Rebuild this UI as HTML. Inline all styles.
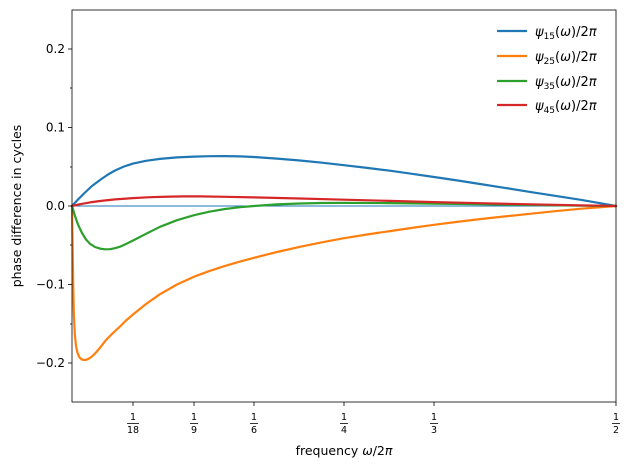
<!DOCTYPE html>
<html><head><meta charset="utf-8"><style>
body{margin:0;background:#fff}
svg text{font-family:"DejaVu Sans","Liberation Sans",sans-serif;fill:#000}
</style></head><body>
<svg width="630" height="470" viewBox="0 0 630 470" xmlns="http://www.w3.org/2000/svg">
<rect width="630" height="470" fill="#fff"/>
<line x1="72" y1="206" x2="616" y2="206" stroke="#1f77b4" stroke-width="1"/>
<g fill="none" stroke-width="2.2" stroke-linejoin="round" stroke-linecap="round">
<polyline stroke="#1f77b4" points="72,206 78,199.5 85,192.5 92,186 100,180 108,174.5 115,170.5 124,166.5 133,163.6 146,160.8 160,158.9 177,157.4 194,156.6 210,156.2 225,156.1 240,156.4 254,157 277,158.6 300,160.5 322,162.7 344,165.2 367,167.9 390,170.7 412,173.8 434,177 457,180.4 480,184 505,187.9 530,191.9 555,195.8 580,199.7 598,202.8 616,206"/>
<polyline stroke="#ff7f0e" points="72,206 72.6,245 73.2,285 73.9,315 74.8,334 76,346 77.5,353 79.5,357.5 82,359.6 85,360 88,359.2 92,356.5 96,352.5 101,346.5 106,340 113,333 120,326.5 126,320.5 133,314.5 146,304 160,294.2 177,284.5 194,276.7 210,270.8 225,265.9 240,261.6 254,257.8 277,252 300,246.8 322,242.3 344,238.2 367,234.5 390,231.1 412,227.9 434,224.8 457,221.9 480,219.1 505,216.4 530,213.8 555,211.2 580,208.8 598,207.4 616,206"/>
<polyline stroke="#2ca02c" points="72,206 75,216 78,224.5 82,233 86,239.5 90,243.8 95,247 100,248.6 105,249.3 110,249.2 115,248.2 120,246.7 128,243 136,239 146,233.8 160,226.8 177,220.2 194,215.2 210,211.6 225,209 240,207.2 254,206 277,204.4 300,203.5 322,203 344,202.9 390,203.1 434,203.6 480,204.2 530,204.9 580,205.6 616,206"/>
<polyline stroke="#d62728" points="72,206 80,204.2 90,202.4 100,201 115,199.4 133,198.1 150,197.2 170,196.6 185,196.4 200,196.4 225,196.8 254,197.4 300,198.5 344,199.7 390,200.9 434,202.1 480,203.2 530,204.3 580,205.3 616,206"/>
</g>
<rect x="72" y="10" width="544" height="392" fill="none" stroke="#000" stroke-width="0.8"/>
<g stroke="#000" stroke-width="0.8">
<line x1="72" y1="49" x2="68" y2="49"/><line x1="72" y1="127.5" x2="68" y2="127.5"/><line x1="72" y1="206" x2="68" y2="206"/><line x1="72" y1="284.5" x2="68" y2="284.5"/><line x1="72" y1="363" x2="68" y2="363"/>
<line x1="72" y1="88" x2="70" y2="88"/><line x1="72" y1="167" x2="70" y2="167"/><line x1="72" y1="245" x2="70" y2="245"/><line x1="72" y1="324" x2="70" y2="324"/>
<line x1="133" y1="402" x2="133" y2="406"/><line x1="194" y1="402" x2="194" y2="406"/><line x1="254" y1="402" x2="254" y2="406"/><line x1="344" y1="402" x2="344" y2="406"/><line x1="434" y1="402" x2="434" y2="406"/><line x1="616" y1="402" x2="616" y2="406"/>
</g>
<g font-size="12" text-anchor="end">
<text x="65" y="53">0.2</text><text x="65" y="131.5">0.1</text><text x="65" y="210">0.0</text><text x="65" y="288.5">−0.1</text><text x="65" y="367">−0.2</text>
</g>
<g font-size="9.5" text-anchor="middle">
<g><text x="133" y="420">1</text><line x1="127" y1="423.5" x2="139" y2="423.5" stroke="#000" stroke-width="0.8"/><text x="133" y="433">18</text></g>
<g><text x="194" y="420">1</text><line x1="190" y1="423.5" x2="198" y2="423.5" stroke="#000" stroke-width="0.8"/><text x="194" y="433">9</text></g>
<g><text x="254" y="420">1</text><line x1="250" y1="423.5" x2="258" y2="423.5" stroke="#000" stroke-width="0.8"/><text x="254" y="433">6</text></g>
<g><text x="344" y="420">1</text><line x1="340" y1="423.5" x2="348" y2="423.5" stroke="#000" stroke-width="0.8"/><text x="344" y="433">4</text></g>
<g><text x="434" y="420">1</text><line x1="430" y1="423.5" x2="438" y2="423.5" stroke="#000" stroke-width="0.8"/><text x="434" y="433">3</text></g>
<g><text x="616" y="420">1</text><line x1="612" y1="423.5" x2="620" y2="423.5" stroke="#000" stroke-width="0.8"/><text x="616" y="433">2</text></g>
</g>
<text x="344" y="455" font-size="12.5" text-anchor="middle">frequency <tspan font-style="italic">ω</tspan>/2<tspan font-style="italic">π</tspan></text>
<text transform="translate(21,206) rotate(-90)" font-size="12.5" text-anchor="middle">phase difference in cycles</text>
<g stroke-width="2.2">
<line x1="497" y1="31" x2="527" y2="31" stroke="#1f77b4"/>
<line x1="497" y1="56" x2="527" y2="56" stroke="#ff7f0e"/>
<line x1="497" y1="81" x2="527" y2="81" stroke="#2ca02c"/>
<line x1="497" y1="105" x2="527" y2="105" stroke="#d62728"/>
</g>
<g font-size="13">
<text x="535" y="36"><tspan font-style="italic">ψ</tspan><tspan font-size="9" dy="3">15</tspan><tspan dy="-3">(</tspan><tspan font-style="italic">ω</tspan>)/2<tspan font-style="italic">π</tspan></text>
<text x="535" y="61"><tspan font-style="italic">ψ</tspan><tspan font-size="9" dy="3">25</tspan><tspan dy="-3">(</tspan><tspan font-style="italic">ω</tspan>)/2<tspan font-style="italic">π</tspan></text>
<text x="535" y="86"><tspan font-style="italic">ψ</tspan><tspan font-size="9" dy="3">35</tspan><tspan dy="-3">(</tspan><tspan font-style="italic">ω</tspan>)/2<tspan font-style="italic">π</tspan></text>
<text x="535" y="110"><tspan font-style="italic">ψ</tspan><tspan font-size="9" dy="3">45</tspan><tspan dy="-3">(</tspan><tspan font-style="italic">ω</tspan>)/2<tspan font-style="italic">π</tspan></text>
</g>
</svg>
</body></html>
